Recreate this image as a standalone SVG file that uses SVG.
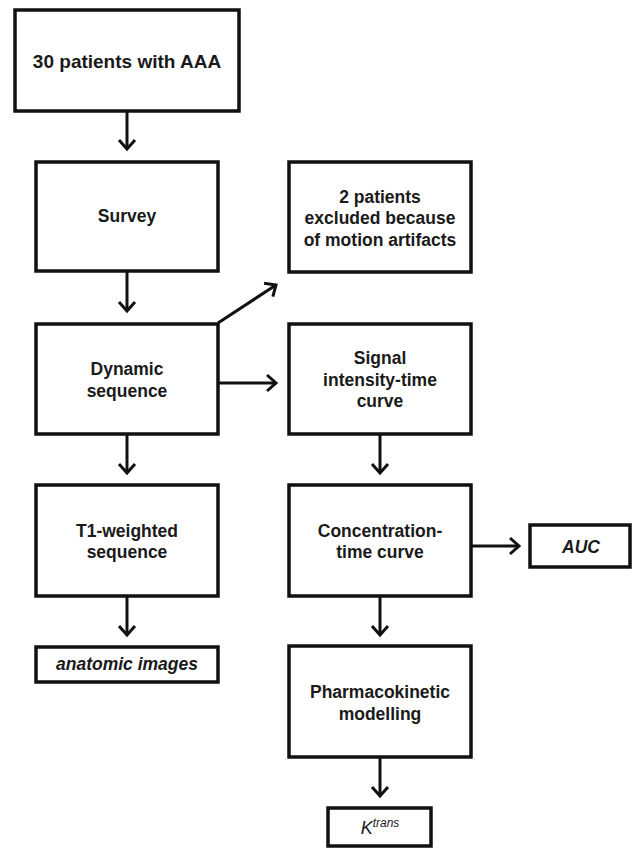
<svg xmlns="http://www.w3.org/2000/svg" width="633" height="848" viewBox="0 0 633 848">
<defs>
<style>
.box{fill:#fff;stroke:#111;stroke-width:3.5}
.t{font-family:"Liberation Sans",Arial,sans-serif;font-weight:bold;font-size:17.5px;fill:#1a1a1a;text-anchor:middle}
.it{font-style:italic}
.c{fill:none;stroke:#111;stroke-width:3}
</style>
<marker id="ah" markerUnits="userSpaceOnUse" markerWidth="20" markerHeight="20" viewBox="-12 -10 14 20" refX="0" refY="0" orient="auto">
<path d="M-9,-8 L0,0 L-9,8" fill="none" stroke="#111" stroke-width="3"/>
</marker>
</defs>
<rect width="633" height="848" fill="#fff"/>
<g id="connectors">
<line class="c" x1="127" y1="112" x2="127" y2="149" marker-end="url(#ah)"/>
<line class="c" x1="127" y1="272" x2="127" y2="311" marker-end="url(#ah)"/>
<line class="c" x1="127" y1="435" x2="127" y2="473" marker-end="url(#ah)"/>
<line class="c" x1="127" y1="597" x2="127" y2="635" marker-end="url(#ah)"/>
<line class="c" x1="218" y1="323" x2="276" y2="285" marker-end="url(#ah)"/>
<line class="c" x1="218" y1="383" x2="276" y2="383" marker-end="url(#ah)"/>
<line class="c" x1="380" y1="435" x2="380" y2="473" marker-end="url(#ah)"/>
<line class="c" x1="471" y1="546" x2="519" y2="546" marker-end="url(#ah)"/>
<line class="c" x1="380" y1="597" x2="380" y2="635" marker-end="url(#ah)"/>
<line class="c" x1="380" y1="757" x2="380" y2="796" marker-end="url(#ah)"/>
</g>
<g id="n1"><rect class="box" x="15" y="10" width="224" height="101"/><text class="t" x="127" y="68" style="font-size:19px">30 patients with AAA</text></g>
<g id="n2"><rect class="box" x="36" y="162" width="182" height="109"/><text class="t" x="127" y="222">Survey</text></g>
<g id="n3"><rect class="box" x="36" y="324" width="182" height="110"/><text class="t" x="127" y="375">Dynamic</text><text class="t" x="127" y="397">sequence</text></g>
<g id="n4"><rect class="box" x="36" y="485" width="182" height="111"/><text class="t" x="127" y="537">T1-weighted</text><text class="t" x="127" y="558">sequence</text></g>
<g id="n5"><rect class="box" x="36" y="647" width="182" height="35"/><text class="t it" x="127" y="670">anatomic images</text></g>
<g id="n6"><rect class="box" x="289" y="162" width="182" height="110"/><text class="t" x="380" y="203">2 patients</text><text class="t" x="380" y="224">excluded because</text><text class="t" x="380" y="246">of motion artifacts</text></g>
<g id="n7"><rect class="box" x="289" y="324" width="182" height="110"/><text class="t" x="380" y="364">Signal</text><text class="t" x="380" y="386">intensity-time</text><text class="t" x="380" y="407">curve</text></g>
<g id="n8"><rect class="box" x="289" y="485" width="182" height="111"/><text class="t" x="380" y="537">Concentration-</text><text class="t" x="380" y="558">time curve</text></g>
<g id="n9"><rect class="box" x="530" y="525" width="100" height="42"/><text class="t it" x="581" y="553">AUC</text></g>
<g id="n10"><rect class="box" x="289" y="646" width="182" height="111"/><text class="t" x="380" y="698">Pharmacokinetic</text><text class="t" x="380" y="720">modelling</text></g>
<g id="n11"><rect class="box" x="328" y="808" width="103" height="38"/><text x="380" y="834" style="font-family:'Liberation Sans',Arial,sans-serif;font-style:italic;font-size:18px;fill:#1a1a1a;text-anchor:middle">K<tspan dy="-7" style="font-size:12px">trans</tspan></text></g>
</svg>
